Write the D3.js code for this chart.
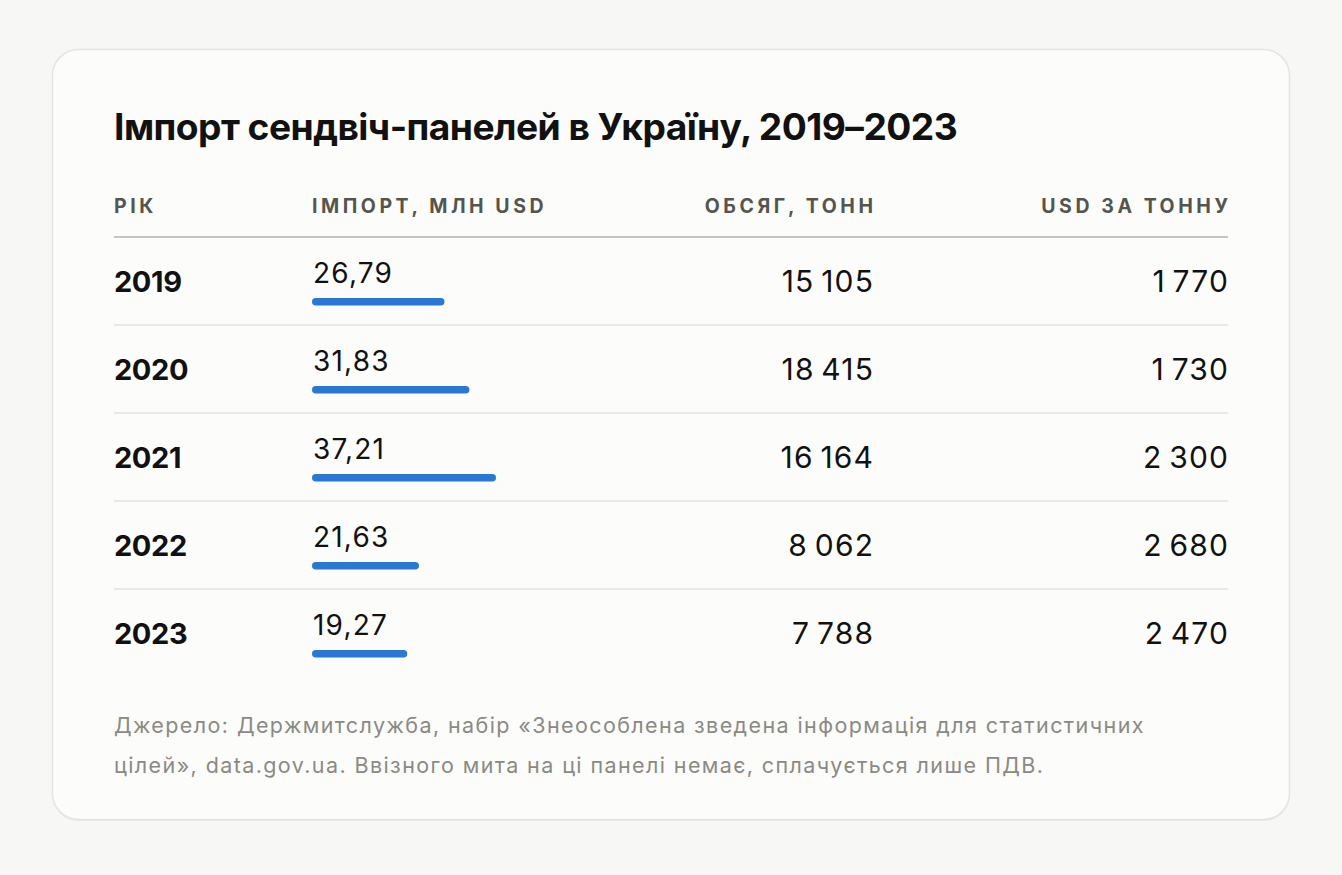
<!DOCTYPE html>
<html lang="uk">
<head>
<meta charset="utf-8">
<script src="https://cdn.jsdelivr.net/npm/d3@7"></script>
<style>
  html, body { margin: 0; padding: 0; background: #f7f7f5; }
  body { font-family: Inter, "Noto Sans", sans-serif; }
  svg { display: block; }
</style>
</head>
<body>
<div id="chart"></div>
<script>
// ── Дані ────────────────────────────────────────────────
const years    = [2019, 2020, 2021, 2022, 2023];
const importM  = [26.79, 31.83, 37.21, 21.63, 19.27];   // млн USD
const volumeT  = [15105, 18415, 16164, 8062, 7788];     // тонн
const usdPerT  = [1770, 1730, 2300, 2680, 2470];        // USD за тонну
const headers  = ['Рік', 'Імпорт, млн USD', 'Обсяг, тонн', 'USD за тонну'];
const title    = 'Імпорт сендвіч-панелей в Україну, 2019–2023';
const sourceLines = [
  'Джерело: Держмитслужба, набір «Знеособлена зведена інформація для статистичних',
  'цілей», data.gov.ua. Ввізного мита на ці панелі немає, сплачується лише ПДВ.'
];

// ── Розміри ─────────────────────────────────────────────
const W = 1342, H = 875;
const card = { x: 52.5, y: 49.5, w: 1237, h: 770, r: 26 };
const left = 114, right = 1228;
const colImport = 312, colVol = 873, colUsd = 1228;
const headerY = 213, ruleY = 237, rowH = 88;

const ua = d3.formatLocale({ decimal: ',', thousands: '\u2009', grouping: [3], currency: ['', ''] });
const fmtDec = ua.format(',.2f');
const fmtInt = ua.format(',d');

const svg = d3.select('#chart').append('svg')
  .attr('width', W).attr('height', H);

// картка
svg.append('rect')
  .attr('x', card.x).attr('y', card.y + 1.5)
  .attr('width', card.w).attr('height', card.h)
  .attr('rx', card.r)
  .attr('fill', '#e8e8e4');
svg.append('rect')
  .attr('x', card.x).attr('y', card.y)
  .attr('width', card.w).attr('height', card.h)
  .attr('rx', card.r)
  .attr('fill', '#fcfcfb')
  .attr('stroke', '#e4e4e0')
  .attr('stroke-width', 1.5);

// заголовок
svg.append('text')
  .attr('x', left).attr('y', 140)
  .attr('font-size', 37.2).attr('font-weight', 700)
  .attr('fill', '#111')
  .attr('letter-spacing', '-0.55px')
  .text(title);

// шапка таблиці
const headX = [left, colImport, colVol, colUsd];
const headAnchor = ['start', 'start', 'end', 'end'];
svg.append('g').selectAll('text')
  .data(headers)
  .join('text')
  .attr('x', (d, i) => headX[i] + (headAnchor[i] === 'end' ? 3.5 : 0))
  .attr('y', headerY)
  .attr('text-anchor', (d, i) => headAnchor[i])
  .attr('font-size', 19.5).attr('font-weight', 700)
  .attr('letter-spacing', '3.55px')
  .attr('fill', '#55554f')
  .text(d => d.toUpperCase());

svg.append('line')
  .attr('x1', left).attr('x2', right)
  .attr('y1', ruleY).attr('y2', ruleY)
  .attr('stroke', '#c6c6be').attr('stroke-width', 2);

// рядки
const y = d3.scaleBand().domain(years).range([ruleY, ruleY + rowH * years.length]);
const xBar = d3.scaleLinear().domain([0, d3.max(importM)]).range([0, 184]);

const rows = svg.append('g').selectAll('g')
  .data(years.map((yr, i) => ({ yr, imp: importM[i], vol: volumeT[i], usd: usdPerT[i] })))
  .join('g')
  .attr('transform', d => `translate(0,${y(d.yr)})`);

rows.filter((d, i) => i < years.length - 1)
  .append('line')
  .attr('x1', left).attr('x2', right)
  .attr('y1', rowH).attr('y2', rowH)
  .attr('stroke', '#e4e4de').attr('stroke-width', 1.5);

rows.append('text')
  .attr('x', left).attr('y', 55)
  .attr('font-size', 29).attr('font-weight', 700).attr('fill', '#111')
  .attr('letter-spacing', '-0.4px')
  .text(d => d.yr);

rows.append('text')
  .attr('x', colImport + 1).attr('y', 46)
  .attr('font-size', 28).attr('fill', '#111')
  .attr('letter-spacing', '1.2px')
  .text(d => fmtDec(d.imp));

rows.append('rect')
  .attr('x', colImport).attr('y', 61)
  .attr('width', d => xBar(d.imp)).attr('height', 7.5)
  .attr('rx', 3.75)
  .attr('fill', '#2b77d4');

const numCols = [[colVol, d => d.vol], [colUsd, d => d.usd]];
numCols.forEach(([cx, get]) => {
  rows.append('text')
    .attr('x', cx + 1.2).attr('y', 55)
    .attr('text-anchor', 'end')
    .attr('font-size', 30).attr('fill', '#111')
    .attr('letter-spacing', '1.2px')
    .text(d => fmtInt(get(d)));
});

// джерело
svg.append('g').selectAll('text')
  .data(sourceLines)
  .join('text')
  .attr('x', left)
  .attr('y', (d, i) => 733 + i * 39.5)
  .attr('font-size', 21.5).attr('fill', '#8a8a84')
  .attr('letter-spacing', '1.4px')
  .text(d => d);
</script>
</body>
</html>
